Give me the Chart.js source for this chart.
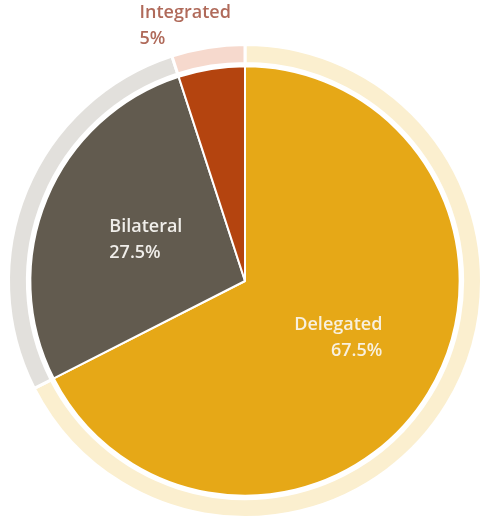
<!DOCTYPE html>
<html>
<head>
<meta charset="utf-8">
<script src="https://cdn.jsdelivr.net/npm/chart.js@4"></script>
<style>
  html, body { margin: 0; padding: 0; background: #fff; }
  #wrap { width: 487px; height: 519px; }
</style>
</head>
<body>
<div id="wrap"><canvas id="myChart"></canvas></div>
<script>
const labels = ['Delegated', 'Bilateral', 'Integrated'];
const shares = [67.5, 27.5, 5];
const pctLabels = ['67.5%', '27.5%', '5%'];

const mainColors = ['#E6A817', '#625B4F', '#B4440F'];
const ringColors = ['#FBEFCF', '#E2E0DC', '#F6D9CD'];
const textColors = ['#F8F0DE', '#F0EEEA', '#B06A5A'];
// where each label sits: fraction of pie radius, angle nudge (deg), text alignment
const labelRadius = [0.51, 0.5, 1.22];
const labelNudge = [0, 0, -4.2];
const labelAlign = ['right', 'left', 'left'];

const sliceLabels = {
  id: 'sliceLabels',
  afterDatasetsDraw(chart) {
    const c = chart.ctx;
    const meta = chart.getDatasetMeta(2);
    c.save();
    c.font = '600 18px "Open Sans", sans-serif';
    c.textBaseline = 'middle';
    meta.data.forEach((arc, i) => {
      const p = arc.getProps(['x', 'y', 'startAngle', 'endAngle', 'outerRadius']);
      const a = (p.startAngle + p.endAngle) / 2 + labelNudge[i] * Math.PI / 180;
      const r = p.outerRadius * labelRadius[i];
      const cx = p.x + Math.cos(a) * r;
      const cy = p.y + Math.sin(a) * r;
      const lines = [labels[i], pctLabels[i]];
      const w = Math.max(...lines.map(t => c.measureText(t).width));
      c.fillStyle = textColors[i];
      c.textAlign = labelAlign[i];
      const x = labelAlign[i] === 'right' ? cx + w / 2 : cx - w / 2;
      lines.forEach((t, j) => c.fillText(t, x, cy + (j - 0.5) * 26));
    });
    c.restore();
  }
};

new Chart(document.getElementById('myChart'), {
  type: 'doughnut',
  data: {
    labels: labels,
    datasets: [{
      data: shares,
      backgroundColor: ringColors,
      borderColor: '#fff',
      borderWidth: 3,
      weight: 19,
      hoverOffset: 0
    }, {
      data: shares,
      backgroundColor: 'rgba(0,0,0,0)',
      borderWidth: 0,
      weight: 3,
      hoverOffset: 0
    }, {
      data: shares,
      backgroundColor: mainColors,
      borderColor: '#fff',
      borderWidth: 2,
      weight: 216,
      hoverOffset: 0
    }]
  },
  options: {
    responsive: true,
    maintainAspectRatio: false,
    animation: false,
    cutout: 0,
    layout: { padding: { top: 43, left: 7, right: 4, bottom: 0 } },
    plugins: {
      legend: { display: false },
      tooltip: { enabled: false }
    }
  },
  plugins: [sliceLabels]
});
</script>
</body>
</html>
